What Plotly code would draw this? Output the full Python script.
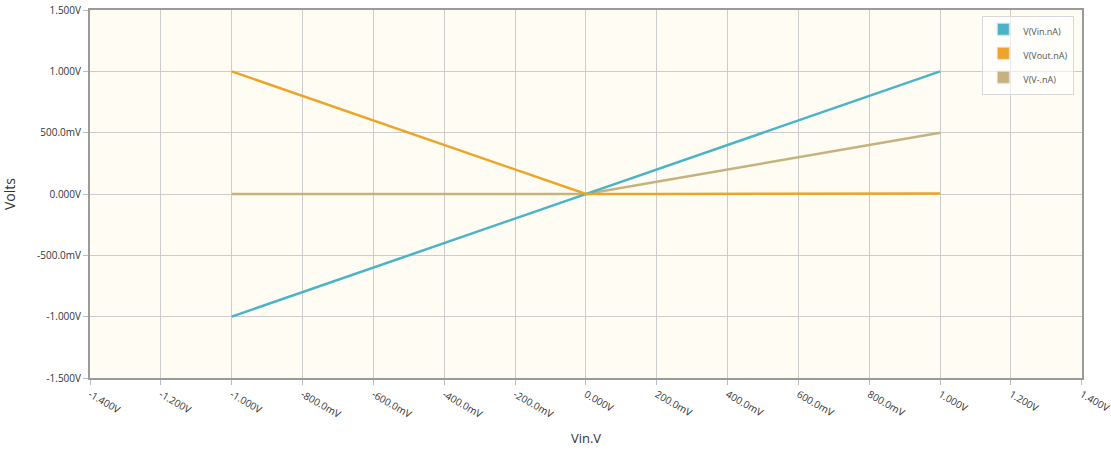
import plotly.graph_objects as go

x_vals = [-1.0, -0.8, -0.6, -0.4, -0.2, 0.0, 0.2, 0.4, 0.6, 0.8, 1.0]
v_vin = [-1.0, -0.8, -0.6, -0.4, -0.2, 0.0, 0.2, 0.4, 0.6, 0.8, 1.0]
v_vout = [1.0, 0.8, 0.6, 0.4, 0.2, 0.0, 0.001, 0.002, 0.003, 0.004, 0.005]
v_vminus = [0.0, 0.0, 0.0, 0.0, 0.0, 0.0, 0.1, 0.2, 0.3, 0.4, 0.5]

series_names = ["V(Vin.nA)", "V(Vout.nA)", "V(V-.nA)"]
series_vals = [v_vin, v_vout, v_vminus]
colors = ["#4bb3c7", "#eea329", "#c6b27f"]

x_ticks = [-1.4, -1.2, -1.0, -0.8, -0.6, -0.4, -0.2, 0.0, 0.2, 0.4, 0.6, 0.8, 1.0, 1.2, 1.4]
x_tick_labels = ["-1.400V", "-1.200V", "-1.000V", "-800.0mV", "-600.0mV", "-400.0mV", "-200.0mV",
                 "0.000V", "200.0mV", "400.0mV", "600.0mV", "800.0mV", "1.000V", "1.200V", "1.400V"]
y_ticks = [-1.5, -1.0, -0.5, 0.0, 0.5, 1.0, 1.5]
y_tick_labels = ["-1.500V", "-1.000V", "-500.0mV", "0.000V", "500.0mV", "1.000V", "1.500V"]

fig = go.Figure()
order = [2, 0, 1]
for i in order:
    fig.add_trace(go.Scatter(x=x_vals, y=series_vals[i], mode="lines",
                             line=dict(color=colors[i], width=2.5),
                             showlegend=False, hoverinfo="skip"))
for i in range(3):
    fig.add_trace(go.Scatter(x=[None], y=[None], mode="markers", name=series_names[i],
                             legendgroup="g%d" % i,
                             marker=dict(symbol="square", size=12, color=colors[i],
                                         line=dict(color="#dddddd", width=1))))

axis_font = dict(family="Open Sans, Verdana, sans-serif", size=10, color="#333333")
fig.update_layout(
    width=1111, height=457,
    margin=dict(l=90, r=29, t=10, b=79, autoexpand=False),
    paper_bgcolor="white",
    plot_bgcolor="#fffcf4",
    font=dict(family="Open Sans, Verdana, sans-serif", color="#333333"),
    legend=dict(x=0.8995, y=0.984, xanchor="left", yanchor="top",
                bgcolor="rgba(255,255,255,0.6)", bordercolor="#d8d8d8", borderwidth=1,
                font=dict(size=9, color="#555555"), itemwidth=30, traceorder="grouped",
                tracegroupgap=5, valign="top"),
    xaxis=dict(range=[-1.4, 1.4005], tickvals=x_ticks, ticktext=x_tick_labels, tickangle=30,
               showgrid=True, gridcolor="#cccccc", gridwidth=1, zeroline=False, automargin=False,
               showline=True, linecolor="#9a9a9a", linewidth=2, mirror=True,
               ticks="outside", ticklen=5, tickcolor="#bbbbbb", tickfont=axis_font,
               ticklabeloverflow="allow",
               title=dict(text="Vin.V", font=dict(size=13, color="#333333"), standoff=14)),
    yaxis=dict(range=[-1.5, 1.5], tickvals=y_ticks, ticktext=y_tick_labels,
               showgrid=True, gridcolor="#cccccc", gridwidth=1, zeroline=False, automargin=False,
               showline=True, linecolor="#9a9a9a", linewidth=2, mirror=True,
               ticks="outside", ticklen=5, tickcolor="#bbbbbb", tickfont=axis_font,
               ticklabeloverflow="allow",
               title=dict(text="Volts", font=dict(size=14, color="#333333"), standoff=20)),
)
fig.write_html("out.html")
